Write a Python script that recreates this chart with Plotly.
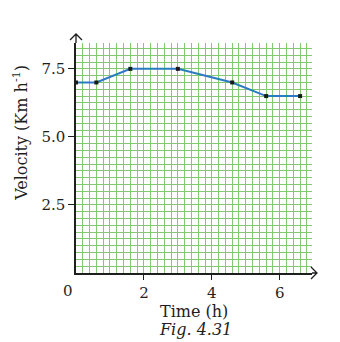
import plotly.graph_objects as go

time_h = [0, 0.6, 1.6, 3.0, 4.6, 5.6, 6.6]
velocity = [7.0, 7.0, 7.5, 7.5, 7.0, 6.5, 6.5]
x_ticks = [2, 4, 6]
x_tick_labels = ["2", "4", "6"]
y_ticks = [2.5, 5.0, 7.5]
y_tick_labels = ["2.5", "5.0", "7.5"]

FONT = "DejaVu Serif"
GRID = "#84c874"
INK = "#1e1e1e"
W, H = 340, 342
ML, MR, MT, MB = 76, 28, 43, 69
PW, PH = W - ML - MR, H - MT - MB

fig = go.Figure()
fig.add_trace(go.Scatter(
    x=time_h, y=velocity, mode="lines+markers",
    line=dict(color="#2a7cc0", width=2),
    marker=dict(symbol="square", size=4, color="#1a1a1a"),
    showlegend=False, cliponaxis=False,
))

fig.update_layout(
    width=W, height=H,
    margin=dict(l=ML, r=MR, t=MT, b=MB),
    paper_bgcolor="white", plot_bgcolor="white",
    font=dict(family=FONT, size=16, color=INK),
    xaxis=dict(
        range=[0, 6.95], tickmode="array", tickvals=x_ticks, ticktext=x_tick_labels,
        tickfont=dict(family=FONT, size=15, color=INK),
        showgrid=True, gridcolor=GRID, gridwidth=1,
        minor=dict(tick0=0, dtick=0.2, showgrid=True, gridcolor=GRID, gridwidth=1),
        showline=True, linecolor=INK, linewidth=1.5,
        ticks="outside", ticklen=5, tickcolor=INK,
        zeroline=False, fixedrange=True,
    ),
    yaxis=dict(
        range=[0, 8.45], tickmode="array", tickvals=y_ticks, ticktext=y_tick_labels,
        tickfont=dict(family=FONT, size=15, color=INK),
        showgrid=True, gridcolor=GRID, gridwidth=1,
        minor=dict(tick0=0, dtick=0.25, showgrid=True, gridcolor=GRID, gridwidth=1),
        showline=True, linecolor=INK, linewidth=1.5,
        ticks="outside", ticklen=6, tickcolor=INK,
        zeroline=False, fixedrange=True,
    ),
)

# axis arrows (paper coordinates)
def px(dx):
    return dx / PW

def py(dy):
    return dy / PH

fig.add_shape(type="path", xref="paper", yref="paper",
              path=(f"M0,1 L0,{1+py(9)} "
                    f"M{-px(6)},{1+py(3)} L0,{1+py(9)} L{px(6)},{1+py(3)}"),
              line=dict(color=INK, width=1.3))
fig.add_shape(type="path", xref="paper", yref="paper",
              path=(f"M1,0 L{1+px(5)},0 "
                    f"M{1-px(1)},{py(6)} L{1+px(5)},0 L{1-px(1)},{-py(6)}"),
              line=dict(color=INK, width=1.3))

fig.add_annotation(x=0, y=0, xref="x", yref="y", text="0", showarrow=False,
                   xshift=-8, yshift=-18, font=dict(family=FONT, size=15, color=INK))
fig.add_annotation(x=0, xref="paper", y=5.15, yref="y", text="Velocity (Km h<sup>-1</sup>)",
                   textangle=-90, showarrow=False, xshift=-55, xanchor="center", yanchor="middle",
                   font=dict(family=FONT, size=16, color=INK))
fig.add_annotation(x=3.48, xref="x", y=0, yref="y", text="Time (h)", showarrow=False,
                   yshift=-38, font=dict(family=FONT, size=16, color=INK))
fig.add_annotation(x=3.53, xref="x", y=0, yref="y", text="<i>Fig. 4.31</i>", showarrow=False,
                   yshift=-56, font=dict(family=FONT, size=16, color=INK))

fig.write_html("out.html")
